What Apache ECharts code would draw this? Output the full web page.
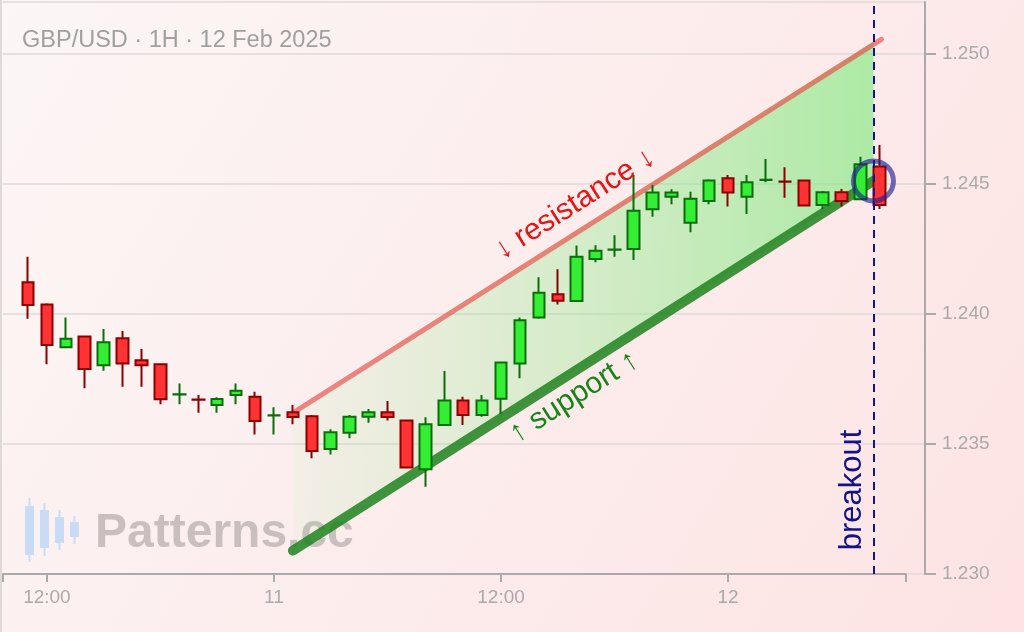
<!DOCTYPE html>
<html><head><meta charset="utf-8">
<script src="https://cdn.jsdelivr.net/npm/echarts@6/dist/echarts.min.js"></script>
<style>html,body{margin:0;padding:0;background:#fff}#c{width:1024px;height:632px}</style>
</head><body><div id="c"></div>
<script>
// Hours counted from 10 Feb 2025 00:00 (GBP/USD, 1H candles)
const hours  = [11,12,13,14,15,16,17,18,19,20,21,22,23,24,25,26,27,28,29,30,31,32,33,34,35,36,37,38,39,40,41,42,43,44,45,46,47,48,49,50,51,52,53,54,55,56];
const opens  = [1.24122,1.24037,1.23872,1.23913,1.23803,1.23907,1.23822,1.23807,1.23690,1.23671,1.23650,1.23688,1.23682,1.23610,1.23622,1.23607,1.23481,1.23543,1.23605,1.23622,1.23590,1.23403,1.23573,1.23667,1.23612,1.23674,1.23810,1.23987,1.24076,1.24050,1.24212,1.24247,1.24250,1.24403,1.24451,1.24351,1.24435,1.24522,1.24451,1.24515,1.24510,1.24513,1.24419,1.24468,1.24441,1.24567];
const closes = [1.24035,1.23881,1.23905,1.23788,1.23891,1.23810,1.23803,1.23672,1.23691,1.23670,1.23673,1.23705,1.23588,1.23611,1.23604,1.23473,1.23545,1.23605,1.23622,1.23604,1.23410,1.23576,1.23667,1.23612,1.23667,1.23813,1.23976,1.24082,1.24051,1.24220,1.24243,1.24248,1.24397,1.24467,1.24467,1.24443,1.24513,1.24467,1.24507,1.24516,1.24509,1.24417,1.24468,1.24435,1.24576,1.24419];
const lows   = [1.23982,1.23807,1.23870,1.23714,1.23782,1.23720,1.23720,1.23653,1.23653,1.23620,1.23620,1.23653,1.23537,1.23537,1.23576,1.23445,1.23460,1.23522,1.23582,1.23590,1.23410,1.23336,1.23573,1.23573,1.23605,1.23615,1.23753,1.23982,1.24037,1.24047,1.24199,1.24220,1.24208,1.24374,1.24422,1.24314,1.24422,1.24413,1.24385,1.24507,1.24447,1.24413,1.24404,1.24413,1.24441,1.24404];
const highs  = [1.24220,1.24041,1.23987,1.23913,1.23942,1.23935,1.23865,1.23809,1.23733,1.23688,1.23680,1.23733,1.23701,1.23641,1.23650,1.23612,1.23557,1.23612,1.23635,1.23665,1.23590,1.23603,1.23781,1.23682,1.23688,1.23813,1.23987,1.24141,1.24172,1.24263,1.24264,1.24303,1.24535,1.24496,1.24480,1.24470,1.24518,1.24535,1.24535,1.24596,1.24564,1.24513,1.24473,1.24481,1.24605,1.24650];

const xTickHours  = [12, 24, 36, 48];
const xTickLabels = ['12:00', '11', '12:00', '12'];
const xRange = [9.68, 57.4];
const yRange = [1.230, 1.252];
const yStep = 0.005;

const supportLine    = [[25, 1.2309], [55.68, 1.24512]];
const resistanceLine = [[25, 1.2362], [56.1, 1.25056]];
const channelFill    = [[25, 1.2309, 1.2363], [55.68, 1.24512, 1.25047]];
const breakoutHour   = 55.68;
const breakoutPoint  = [[55.68, 1.24512]];

const FONT = '"Liberation Sans", Arial, Helvetica, sans-serif';
const chart = echarts.init(document.getElementById('c'));

const candleData = hours.map((h, i) => [h, opens[i], closes[i], lows[i], highs[i]]);

const wmCandles = [
  {x:25, w:9,  bt:506, bb:555, wt:498, wb:562},
  {x:40, w:9,  bt:510, bb:548, wt:503, wb:556},
  {x:55, w:9,  bt:517, bb:543, wt:510, wb:550},
  {x:70, w:9,  bt:522, bb:537, wt:516, wb:544}
];
const wmEls = [];
wmCandles.forEach(c => {
  wmEls.push({type:'rect', z:1, shape:{x:c.x + c.w/2 - 1, y:c.wt, width:2, height:c.wb - c.wt}, style:{fill:'#c8dcf6'}});
  wmEls.push({type:'rect', z:1, shape:{x:c.x, y:c.bt, width:c.w, height:c.bb - c.bt}, style:{fill:'#c8dcf6'}});
});

const deg = Math.PI / 180;

chart.setOption({
  animation: false,
  backgroundColor: {type:'linear', x:0, y:0, x2:1, y2:1, colorStops:[{offset:0, color:'#fcf6f6'}, {offset:1, color:'#fde3e3'}]},
  textStyle: {fontFamily: FONT},
  grid: [
    {left:3, right:118, top:2, bottom:58},
    {left:3, right:99, top:2, bottom:58}
  ],
  xAxis: [
    {
      type:'value', gridIndex:0, min:xRange[0], max:xRange[1],
      axisLine:{show:true, onZero:false, lineStyle:{color:'#aaaaaa', width:2}},
      axisTick:{show:true, length:8, customValues:[xRange[0]].concat(xTickHours, [xRange[1]]), lineStyle:{color:'#aaaaaa', width:2}},
      axisLabel:{show:true, customValues:xTickHours, margin:14, color:'#aaaaaa', fontSize:19, fontFamily:FONT,
        formatter: v => { const k = xTickHours.indexOf(v); return k >= 0 ? xTickLabels[k] : ''; }},
      splitLine:{show:false}
    },
    {type:'value', gridIndex:1, min:0, max:1, show:false}
  ],
  yAxis: [
    {type:'value', gridIndex:0, min:yRange[0], max:yRange[1], interval:yStep, show:false, splitLine:{show:false}},
    {
      type:'value', gridIndex:1, position:'right', min:yRange[0], max:yRange[1], interval:yStep,
      axisLine:{show:true, onZero:false, lineStyle:{color:'#aaaaaa', width:2}},
      axisTick:{show:true, length:11, lineStyle:{color:'#aaaaaa', width:2}},
      axisLabel:{margin:17, color:'#aaaaaa', fontSize:19, fontFamily:FONT, showMaxLabel:false, formatter: v => v.toFixed(3)},
      splitLine:{show:true, lineStyle:{color:'#e0d9d9', width:1.5}}
    }
  ],
  graphic: [
    {type:'line', z:1, shape:{x1:1, y1:0, x2:1, y2:632}, style:{stroke:'#d6cfcf', lineWidth:1.5}},
    {type:'text', z:1, x:22, y:41, style:{text:'GBP/USD · 1H · 12 Feb 2025', fill:'#a0a0a0', font:'23.5px ' + FONT, textVerticalAlign:'middle', textAlign:'left'}},
    {type:'text', z:1, x:95, y:534, style:{text:'Patterns.cc', fill:'#c9bfbf', font:'bold 48px ' + FONT, textVerticalAlign:'middle', textAlign:'left'}},
    ...wmEls,
    {type:'text', z:20, x:575, y:204, rotation:32.4*deg, style:{text:'↓ resistance ↓', fill:'#e41414', font:'30px ' + FONT, textAlign:'center', textVerticalAlign:'middle'}},
    {type:'text', z:20, x:574, y:397, rotation:32.4*deg, style:{text:'↑ support ↑', fill:'#178417', font:'30px ' + FONT, textAlign:'center', textVerticalAlign:'middle'}},
    {type:'text', z:20, x:852, y:490, rotation:90*deg, style:{text:'breakout', fill:'#12128a', font:'31px ' + FONT, textAlign:'center', textVerticalAlign:'middle'}}
  ],
  series: [
    {
      type:'custom', xAxisIndex:0, yAxisIndex:0, z:1, silent:true,
      data:[0],
      renderItem: (params, api) => {
        const a = api.coord([channelFill[0][0], channelFill[0][1]]);
        const b = api.coord([channelFill[1][0], channelFill[1][1]]);
        const c = api.coord([channelFill[1][0], channelFill[1][2]]);
        const d = api.coord([channelFill[0][0], channelFill[0][2]]);
        return {
          type:'polygon', shape:{points:[a, b, c, d]},
          style:{fill: new echarts.graphic.LinearGradient(0, 0, 1, 0, [
            {offset:0, color:'rgba(120,235,120,0.06)'},
            {offset:0.5, color:'rgba(120,235,120,0.3)'},
            {offset:1, color:'rgba(120,235,120,0.6)'}
          ])}
        };
      }
    },
    {type:'line', xAxisIndex:0, yAxisIndex:0, z:3, data:resistanceLine, symbol:'none', silent:true,
      lineStyle:{color:'rgba(235,60,60,0.6)', width:5, cap:'round'}},
    {type:'line', xAxisIndex:0, yAxisIndex:0, z:3, data:supportLine, symbol:'none', silent:true,
      lineStyle:{color:'rgba(30,130,30,0.85)', width:10, cap:'round'}},
    {
      type:'candlestick', xAxisIndex:0, yAxisIndex:0, z:4, barWidth:12,
      encode:{x:0, y:[1,2,3,4]},
      data:candleData,
      itemStyle:{color:'#33ee33', color0:'#ff3333', borderColor:'#0b6e0b', borderColor0:'#8b0000', borderWidth:2}
    },
    {
      type:'scatter', xAxisIndex:0, yAxisIndex:0, z:6, data:breakoutPoint, symbol:'circle', symbolSize:40, silent:true,
      itemStyle:{color:'rgba(0,0,0,0)', borderColor:'rgba(30,30,140,0.8)', borderWidth:5},
      markLine:{silent:true, symbol:['none','none'], label:{show:false},
        lineStyle:{color:'#14148c', width:2, type:[8,6]}, data:[{xAxis:breakoutHour}]}
    }
  ]
});
</script></body></html>
